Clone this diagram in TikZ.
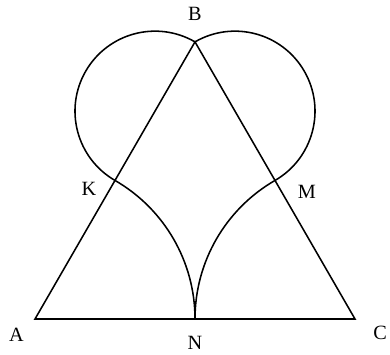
\documentclass[tikz,border=0pt]{standalone}
\usepackage{fontspec}
\setmainfont{Liberation Serif}
\usetikzlibrary{positioning,calc}

\begin{document}
\begin{tikzpicture}[line width=1.1pt, lbl/.style = {inner sep=0pt, font=\Large}]

\useasboundingbox (-0.875,-0.875) rectangle (8.875,7.975);

\coordinate (A) at (0,0);
\coordinate (C) at (8,0);
\coordinate (B) at (60:8);
\coordinate (N) at ($(A)!0.5!(C)$);
\coordinate (K) at ($(A)!0.5!(B)$);
\coordinate (M) at ($(C)!0.5!(B)$);

\draw (A) -- (B) -- (C) -- cycle;

% heart: arcs round A and C, half circles on BK and BM
\draw (N) arc[start angle=0, end angle=60, radius=4]
      arc[start angle=240, end angle=60, radius=2]
      arc[start angle=120, end angle=-60, radius=2]
      arc[start angle=120, end angle=180, radius=4];

\node[lbl] (lA) [below left=0.22cm and 0.26cm of A] {A};
\node[lbl] (lB) [above=0.52cm of B] {B};
\node[lbl] (lC) [below right=0.17cm and 0.44cm of C] {C};
\node[lbl] (lN) [below=0.42cm of N] {N};
\node[lbl] (lK) [below left=0.03cm and 0.45cm of K] {K};
\node[lbl] (lM) [below right=0.1cm and 0.55cm of M] {M};
\end{tikzpicture}
\end{document}
